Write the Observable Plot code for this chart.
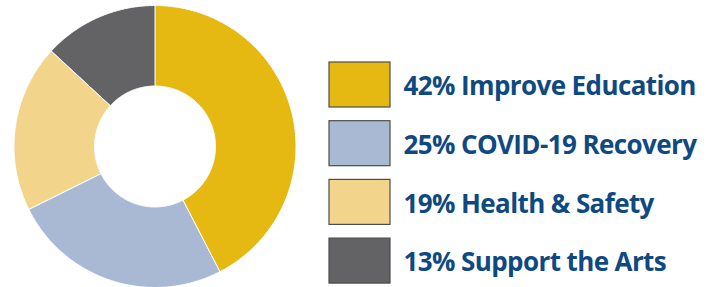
<!DOCTYPE html>
<html>
<head>
<meta charset="utf-8">
<script src="https://cdn.jsdelivr.net/npm/d3@7"></script>
<script src="https://cdn.jsdelivr.net/npm/@observablehq/plot@0.6"></script>
<style>
  html, body { margin: 0; padding: 0; background: #fff; }
  #chart { width: 718px; height: 287px; }
  #chart text { letter-spacing: -0.6px; }
</style>
</head>
<body>
<div id="chart"></div>
<script>
// Data
const categories = ["Improve Education", "COVID-19 Recovery", "Health & Safety", "Support the Arts"];
const percents = [42, 25, 19, 13];
const labels = ["42% Improve Education", "25% COVID-19 Recovery", "19% Health & Safety", "13% Support the Arts"];
const colors = ["#e6b812", "#a9b9d4", "#f2d58b", "#636365"];

// Geometry (layout)
const W = 718, H = 287;
const cx = 154.5, cy = 146;
const R = 141, r = 60.5;

const pie = d3.pie().sort(null).value(d => d)(percents);

// Build polygon points for each slice (angles clockwise from top)
const pts = [];
pie.forEach((p, i) => {
  const a0 = p.startAngle, a1 = p.endAngle;
  const n = Math.max(8, Math.ceil((a1 - a0) / 0.01));
  for (let k = 0; k <= n; k++) {
    const a = a0 + (a1 - a0) * k / n;
    pts.push({cat: categories[i], x: R * Math.sin(a), y: -R * Math.cos(a)});
  }
  for (let k = n; k >= 0; k--) {
    const a = a0 + (a1 - a0) * k / n;
    pts.push({cat: categories[i], x: r * Math.sin(a), y: -r * Math.cos(a)});
  }
});

// Legend rows
const boxX = 329 - cx, boxW = 61, boxTop = 62 - cy, boxH = 45, rowStep = 58.7;
const legend = categories.map((c, i) => ({
  cat: c,
  label: labels[i],
  x1: boxX, x2: boxX + boxW,
  y1: boxTop + i * rowStep, y2: boxTop + i * rowStep + boxH,
  ty: boxTop + i * rowStep + boxH / 2 + 2
}));

const chart = Plot.plot({
  width: W, height: H,
  margin: 0,
  x: {domain: [-cx, W - cx], range: [0, W], axis: null},
  y: {domain: [-cy, H - cy], range: [0, H], axis: null},
  color: {domain: categories, range: colors},
  style: {background: "#fff"},
  marks: [
    Plot.line(pts, {x: "x", y: "y", z: "cat", fill: "cat", stroke: "#fff", strokeWidth: 1, curve: "linear-closed"}),
    Plot.rect(legend, {x1: "x1", x2: "x2", y1: "y1", y2: "y2", fill: "cat", stroke: "#4d4d4d", strokeWidth: 1.2}),
    Plot.text(legend, {x: 403 - cx, y: "ty", text: "label", textAnchor: "start", lineAnchor: "middle",
      fill: "#0f4982", fontSize: 26, fontWeight: "bold", fontFamily: "'Open Sans', sans-serif"})
  ]
});
document.getElementById("chart").appendChild(chart);
</script>
</body>
</html>
